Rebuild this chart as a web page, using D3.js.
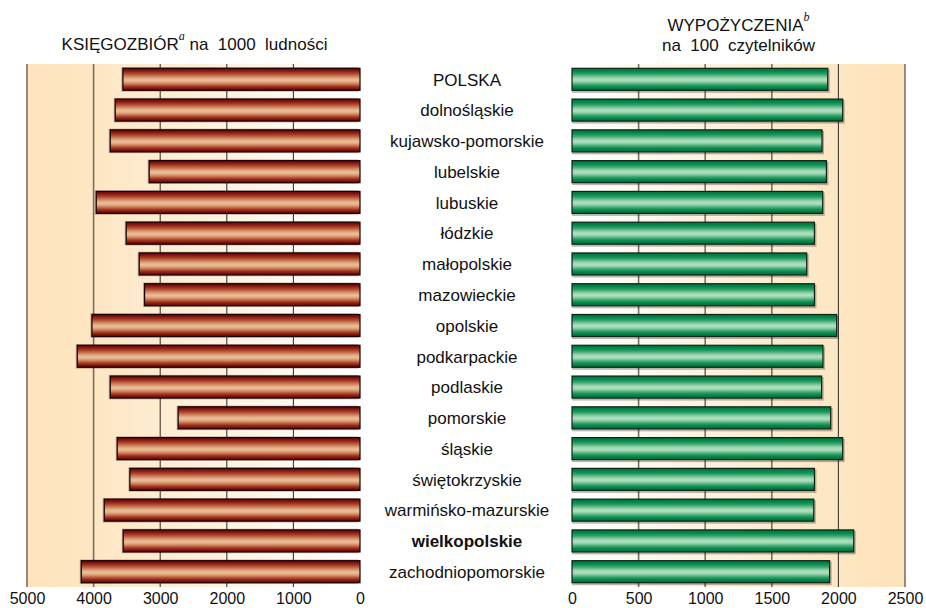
<!DOCTYPE html>
<html><head><meta charset="utf-8">
<script src="https://cdn.jsdelivr.net/npm/d3@7"></script>
<style>
html,body{margin:0;padding:0;background:#fff;}
text{font-family:"Liberation Sans",Arial,sans-serif;fill:#111;}
</style></head>
<body>
<svg id="chart" width="926" height="608"></svg>
<script>
const categories = ["POLSKA","dolnośląskie","kujawsko-pomorskie","lubelskie","lubuskie","łódzkie","małopolskie","mazowieckie","opolskie","podkarpackie","podlaskie","pomorskie","śląskie","świętokrzyskie","warmińsko-mazurskie","wielkopolskie","zachodniopomorskie"];
const ksiegozbior = [3560,3675,3750,3165,3960,3510,3315,3235,4025,4245,3750,2730,3645,3455,3840,3555,4185];
const wypozyczenia = [1920,2032,1877,1910,1882,1820,1762,1820,1987,1884,1874,1942,2032,1820,1815,2115,1934];
const leftTicks = [5000,4000,3000,2000,1000,0];
const rightTicks = [0,500,1000,1500,2000,2500];
const boldCategory = "wielkopolskie";

const svg = d3.select("#chart");
const defs = svg.append("defs");

const plotTop = 64, plotBottom = 587;
const xL = d3.scaleLinear().domain([5000,0]).range([27,360]);
const xR = d3.scaleLinear().domain([0,2500]).range([572,905]);
const y = d3.scaleBand().domain(categories).range([plotTop,plotBottom]).paddingInner(0.285).paddingOuter(0.14);

// background gradients
const bgL = defs.append("linearGradient").attr("id","bgL").attr("x1","0").attr("x2","1").attr("y1","0").attr("y2","0");
bgL.append("stop").attr("offset","0").attr("stop-color","#fde4bd");
bgL.append("stop").attr("offset","0.2").attr("stop-color","#fde6c2");
bgL.append("stop").attr("offset","1").attr("stop-color","#ffffff");
const bgR = defs.append("linearGradient").attr("id","bgR").attr("x1","0").attr("x2","1").attr("y1","0").attr("y2","0");
bgR.append("stop").attr("offset","0").attr("stop-color","#ffffff");
bgR.append("stop").attr("offset","0.8").attr("stop-color","#fde6c2");
bgR.append("stop").attr("offset","1").attr("stop-color","#fde3b9");

svg.append("rect").attr("x",xL(5000)).attr("y",plotTop).attr("width",xL(0)-xL(5000)).attr("height",plotBottom-plotTop).attr("fill","url(#bgL)");
svg.append("rect").attr("x",xR(0)).attr("y",plotTop).attr("width",xR(2500)-xR(0)).attr("height",plotBottom-plotTop).attr("fill","url(#bgR)");

// bar gradients (banded)
function barGrad(id, cols){
  const g = defs.append("linearGradient").attr("id",id).attr("x1","0").attr("x2","0").attr("y1","0").attr("y2","1");
  cols.forEach((c,i)=>{g.append("stop").attr("offset",i/(cols.length-1)).attr("stop-color",c);});
}
barGrad("gRed",["#6a0404","#7c100c","#932818","#a9442b","#bf6647","#d38b66","#e3ac85","#ebbf98","#e2aa82","#cf8560","#b55638","#982c1d","#7e130d","#680404"]);
barGrad("gGreen",["#00703c","#007d44","#088c50","#23995f","#4aad7a","#7cc699","#a2d9b5","#b0e0c0","#92d0a8","#5bb685","#2a9d63","#0a8a4e","#007a42","#006b38"]);

// gridlines
svg.append("g").selectAll("line").data(leftTicks).join("line")
  .attr("x1",d=>xL(d)).attr("x2",d=>xL(d)).attr("y1",plotTop).attr("y2",plotBottom)
  .attr("stroke",d=>d===0?"none":(d>=4000?"#7d6f5e":"#3e3a36")).attr("stroke-width",d=>d>=4000?1.6:1.1);
svg.append("g").selectAll("line").data(rightTicks).join("line")
  .attr("x1",d=>xR(d)).attr("x2",d=>xR(d)).attr("y1",plotTop).attr("y2",plotBottom)
  .attr("stroke",d=>d===0?"none":(d>=2000?"#3e3a36":"#7d6f5e")).attr("stroke-width",d=>d>=2000?1.1:1.6);

const bw = y.bandwidth();
// left bars
const gl = svg.append("g");
gl.selectAll("rect.sh").data(categories).join("rect").attr("class","sh")
  .attr("x",(d,i)=>xL(ksiegozbior[i])-1.5).attr("y",d=>y(d)-1.2)
  .attr("width",(d,i)=>xL(0)-xL(ksiegozbior[i])).attr("height",bw+2.5)
  .attr("fill","#000").attr("opacity",0.28);
gl.selectAll("rect.bar").data(categories).join("rect").attr("class","bar")
  .attr("x",(d,i)=>xL(ksiegozbior[i])).attr("y",d=>y(d))
  .attr("width",(d,i)=>xL(0)-xL(ksiegozbior[i])).attr("height",bw)
  .attr("fill","url(#gRed)").attr("stroke","#1a0000").attr("stroke-width",1.2);

// right bars
const gr = svg.append("g");
gr.selectAll("rect.sh").data(categories).join("rect").attr("class","sh")
  .attr("x",xR(0)).attr("y",d=>y(d)+1)
  .attr("width",(d,i)=>xR(wypozyczenia[i])-xR(0)+2).attr("height",bw+1.5)
  .attr("fill","#000").attr("opacity",0.28);
gr.selectAll("rect.bar").data(categories).join("rect").attr("class","bar")
  .attr("x",xR(0)).attr("y",d=>y(d))
  .attr("width",(d,i)=>xR(wypozyczenia[i])-xR(0)).attr("height",bw)
  .attr("fill","url(#gGreen)").attr("stroke","#0d2418").attr("stroke-width",1.2);

// category labels
svg.append("g").selectAll("text").data(categories).join("text")
  .attr("x",467).attr("y",d=>y(d)+bw/2+6.3)
  .attr("text-anchor","middle").style("font-size","17px")
  .style("font-weight",d=>d===boldCategory?"bold":"normal")
  .text(d=>d);

// axes labels
const axL = d3.axisBottom(xL).tickValues(leftTicks).tickSize(0).tickPadding(0).tickFormat(d3.format("d"));
const axR = d3.axisBottom(xR).tickValues(rightTicks).tickSize(0).tickPadding(0).tickFormat(d3.format("d"));
[axL,axR].forEach(ax=>{
  const g = svg.append("g").attr("transform",`translate(0,${plotBottom})`).call(ax);
  g.select(".domain").remove();
  g.selectAll("text").attr("dy",null).attr("y",17.3)
    .style("font-size","16px").style("font-family","'Liberation Sans',Arial,sans-serif").attr("fill","#111");
});

// titles
const tL = svg.append("text").attr("x",(xL(5000)+xL(0))/2+1).attr("y",50).attr("text-anchor","middle")
  .style("font-size","17px").style("white-space","pre");
tL.append("tspan").text("KSIĘGOZBIÓR");
tL.append("tspan").attr("dy",-10).style("font-family","'Liberation Serif','DejaVu Serif',serif").style("font-style","italic").style("font-size","12px").text("a");
tL.append("tspan").attr("dy",10).text(" na  1000  ludności");

const tR1 = svg.append("text").attr("x",(xR(0)+xR(2500))/2).attr("y",31).attr("text-anchor","middle")
  .style("font-size","17px").style("white-space","pre");
tR1.append("tspan").text("WYPOŻYCZENIA");
tR1.append("tspan").attr("dy",-10).style("font-family","'Liberation Serif','DejaVu Serif',serif").style("font-style","italic").style("font-size","12px").text("b");
svg.append("text").attr("x",(xR(0)+xR(2500))/2).attr("y",51).attr("text-anchor","middle")
  .style("font-size","17px").style("white-space","pre").text("na  100  czytelników");
</script>
</body></html>
